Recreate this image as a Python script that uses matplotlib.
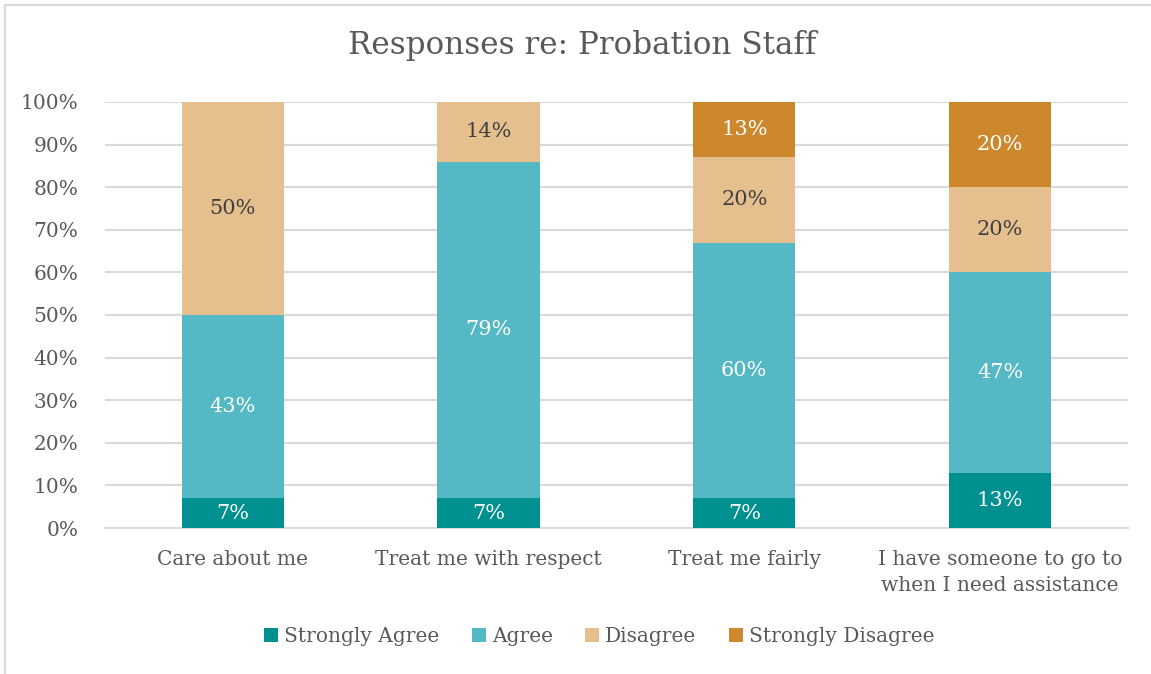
import numpy as np
import matplotlib.pyplot as plt
from matplotlib.lines import Line2D

# survey responses (percent of respondents)
categories = ['Care about me', 'Treat me with respect', 'Treat me fairly',
              'I have someone to go to\nwhen I need assistance']
strongly_agree = [7, 7, 7, 13]
agree = [43, 79, 60, 47]
disagree = [50, 14, 20, 20]
strongly_disagree = [0, 0, 13, 20]

series = [('Strongly Agree', strongly_agree, '#00908F', 'white'),
          ('Agree', agree, '#55B8C5', 'white'),
          ('Disagree', disagree, '#E5C08E', '#404040'),
          ('Strongly Disagree', strongly_disagree, '#CD882E', 'white')]

plt.rcParams['font.family'] = 'DejaVu Serif'
text_grey = '#595959'

fig = plt.figure(figsize=(11.51, 6.74), dpi=100)
ax = fig.add_axes([0.0912, 0.2166, 0.8887, 0.6321])

x = np.arange(len(categories))
bottom = np.zeros(len(categories))
for name, vals, col, lab_col in series:
    vals = np.array(vals, dtype=float)
    ax.bar(x, vals, 0.4, bottom=bottom, color=col, label=name, zorder=3)
    for xi, b, v in zip(x, bottom, vals):
        if v > 0:
            ax.text(xi, b + v / 2, f'{v:.0f}%', ha='center', va='center',
                    color=lab_col, fontsize=15, zorder=4)
    bottom += vals

ax.set_xlim(-0.5, 3.5)
ax.set_ylim(0, 100)
ax.set_yticks(np.arange(0, 101, 10))
ax.set_yticklabels([f'{t}%' for t in range(0, 101, 10)])
ax.set_xticks(x)
ax.set_xticklabels(categories, linespacing=1.45)
ax.tick_params(length=0, colors=text_grey, labelsize=14.5)
ax.tick_params(axis='y', pad=19)
ax.tick_params(axis='x', pad=16)
ax.grid(axis='y', color='#D9D9D9', linewidth=1.5, zorder=0)
for s in ['top', 'right', 'left']:
    ax.spines[s].set_visible(False)
ax.spines['bottom'].set_color('#D9D9D9')
ax.spines['bottom'].set_linewidth(1.5)

fig.text(0.506, 0.932, 'Responses re: Probation Staff', ha='center', va='center',
         fontsize=22.3, color=text_grey)

ax.legend(loc='center', bbox_to_anchor=(0.483, -0.255), ncol=4, frameon=False,
          fontsize=14.5, labelcolor=text_grey, handlelength=0.7, handleheight=0.7,
          handletextpad=0.3, columnspacing=1.6)

# outer chart border: only left and top edges fall inside the canvas
fig.lines.append(Line2D([5 / 1151, 5 / 1151], [0, 1 - 5 / 674],
                        transform=fig.transFigure, color='#D9D9D9', linewidth=1.5))
fig.lines.append(Line2D([5 / 1151, 1], [1 - 5 / 674, 1 - 5 / 674],
                        transform=fig.transFigure, color='#D9D9D9', linewidth=1.5))

fig.savefig('out.png', dpi=100)
